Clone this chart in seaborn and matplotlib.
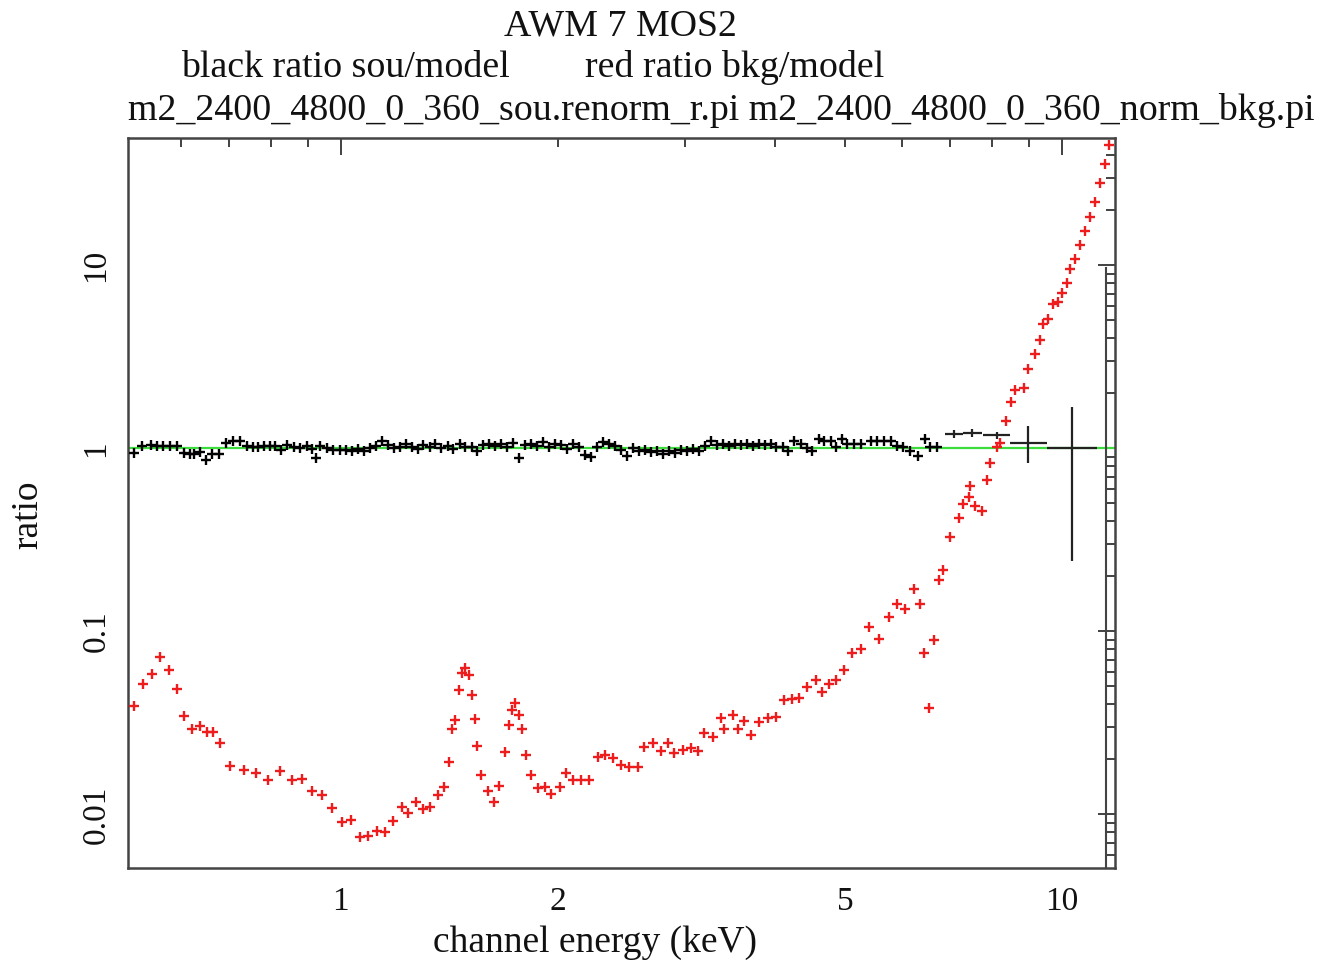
import numpy as np
import pandas as pd
import matplotlib
matplotlib.use("Agg")
import matplotlib.pyplot as plt
import seaborn as sns
from matplotlib.ticker import FixedLocator, FuncFormatter, NullFormatter

# ---------------- data ----------------
# background / model ratio (red)
bkg_energy = [0.517, 0.532, 0.548, 0.562, 0.578, 0.593, 0.606, 0.622, 0.639, 0.653,
              0.665, 0.681, 0.703, 0.734, 0.764, 0.793, 0.824, 0.855, 0.883, 0.912,
              0.941, 0.972, 1.003, 1.033, 1.063, 1.092, 1.121, 1.152, 1.183, 1.214,
              1.241, 1.271, 1.301, 1.329, 1.362, 1.391, 1.413, 1.427, 1.442, 1.458,
              1.474, 1.489, 1.505, 1.518, 1.534, 1.547, 1.567, 1.601, 1.629, 1.658,
              1.688, 1.712, 1.728, 1.742, 1.765, 1.785, 1.808, 1.837, 1.877, 1.917,
              1.958, 2.011, 2.054, 2.098, 2.154, 2.212, 2.272, 2.326, 2.384, 2.447,
              2.513, 2.581, 2.636, 2.707, 2.780, 2.840, 2.901, 2.979, 3.058, 3.124,
              3.190, 3.277, 3.365, 3.401, 3.493, 3.549, 3.625, 3.702, 3.802, 3.905,
              4.009, 4.117, 4.228, 4.318, 4.435, 4.554, 4.652, 4.751, 4.853, 4.983,
              5.118, 5.255, 5.396, 5.570, 5.750, 5.906, 6.065, 6.228, 6.363, 6.430,
              6.533, 6.637, 6.744, 6.839, 7.000, 7.188, 7.290, 7.421, 7.461, 7.580,
              7.743, 7.868, 7.950, 8.122, 8.207, 8.366, 8.502, 8.610, 8.841, 8.983,
              9.177, 9.323, 9.421, 9.574, 9.727, 9.883, 9.991, 10.15, 10.26, 10.42,
              10.59, 10.76, 10.93, 11.11, 11.29, 11.47, 11.63]
bkg_ratio = [0.0390, 0.0514, 0.0583, 0.0724, 0.0613, 0.0481, 0.0344, 0.0294, 0.0303, 0.0282,
             0.0282, 0.0244, 0.0183, 0.0174, 0.0169, 0.0154, 0.0173, 0.0154, 0.0155, 0.01345,
             0.01274, 0.01086, 0.00904, 0.0093, 0.00755, 0.00762, 0.00814, 0.00804, 0.00923, 0.01092,
             0.01013, 0.01171, 0.01065, 0.0110, 0.01274, 0.01404, 0.01936, 0.0291, 0.0327, 0.0477,
             0.0588, 0.0626, 0.0575, 0.0448, 0.0330, 0.0236, 0.0164, 0.01345, 0.01171, 0.01427,
             0.02196, 0.0307, 0.0371, 0.0406, 0.0348, 0.0294, 0.02106, 0.0164, 0.01386, 0.01415,
             0.0129, 0.01415, 0.01674, 0.0154, 0.0154, 0.0154, 0.02046, 0.02106, 0.0202, 0.01858,
             0.01818, 0.01818, 0.0232, 0.0244, 0.0222, 0.0246, 0.0217, 0.0224, 0.0229, 0.0222,
             0.0277, 0.0263, 0.0334, 0.0294, 0.0348, 0.0294, 0.0324, 0.0271, 0.0320, 0.0334,
             0.0341, 0.0420, 0.0429, 0.0433, 0.0497, 0.0540, 0.0466, 0.0518, 0.0540, 0.0613,
             0.0756, 0.0804, 0.1055, 0.0912, 0.1197, 0.1416, 0.1330, 0.1710, 0.1416, 0.0756,
             0.0379, 0.0893, 0.1898, 0.2152, 0.3257, 0.4135, 0.4930, 0.540, 0.618, 0.481,
             0.4516, 0.6665, 0.825, 1.013, 1.074, 1.407, 1.798, 2.077, 2.144, 2.721,
             3.253, 3.894, 4.797, 5.100, 6.096, 6.283, 7.070, 8.017, 9.559, 10.75,
             12.92, 15.41, 18.44, 22.07, 28.15, 35.74, 45.4]

# source / model ratio (black), narrow channels
sou_energy = [0.517, 0.531, 0.545, 0.556, 0.567, 0.580, 0.592, 0.606, 0.618, 0.626,
              0.638, 0.651, 0.663, 0.677, 0.694, 0.709, 0.726, 0.741, 0.756, 0.769,
              0.782, 0.797, 0.811, 0.826, 0.842, 0.860, 0.878, 0.897, 0.912, 0.924,
              0.936, 0.956, 0.977, 0.998,
              1.016, 1.036, 1.056, 1.076, 1.097, 1.118, 1.139, 1.161, 1.184, 1.207,
              1.230, 1.254, 1.278, 1.302, 1.328, 1.353, 1.379, 1.406, 1.433, 1.461,
              1.489, 1.518, 1.547, 1.577, 1.607, 1.638, 1.670, 1.702, 1.735, 1.769,
              1.803, 1.837, 1.873, 1.909, 1.946, 1.983,
              2.021, 2.061, 2.101, 2.141, 2.183, 2.225, 2.268, 2.311, 2.356, 2.401,
              2.447, 2.495, 2.543, 2.592, 2.642, 2.693, 2.745, 2.797, 2.851, 2.906,
              2.962, 3.019, 3.077, 3.137, 3.197, 3.259, 3.321, 3.385, 3.451, 3.517,
              3.585, 3.654, 3.725, 3.797, 3.870, 3.945,
              4.009, 4.097, 4.163, 4.247, 4.343, 4.435, 4.506, 4.597, 4.671, 4.776,
              4.853, 4.958, 5.038, 5.140, 5.256, 5.426, 5.543, 5.655, 5.783, 5.907,
              6.027, 6.163, 6.322, 6.465, 6.569, 6.711]
sou_ratio = [0.936, 1.034, 1.047, 1.034, 1.034, 1.022, 1.034, 0.944, 0.932, 0.924,
             0.951, 0.865, 0.932, 0.932, 1.065, 1.101, 1.092, 1.022, 1.013, 1.013,
             1.022, 1.022, 1.025, 0.980, 1.047, 1.013, 1.005, 1.022, 0.993, 0.886,
             1.034, 1.005, 0.972, 0.972,
             0.98, 0.97, 0.99, 0.96, 1.00, 1.03, 1.09, 1.04, 1.00, 1.02,
             1.05, 1.01, 0.99, 1.04, 1.02, 1.06, 1.00, 1.03, 0.99, 1.05,
             1.01, 1.02, 0.97, 1.04, 1.06, 1.03, 1.05, 1.01, 1.07, 0.88,
             1.04, 1.05, 1.03, 1.08, 1.02, 1.06,
             1.04, 0.99, 1.05, 1.02, 0.92, 0.90, 1.01, 1.08, 1.05, 1.03,
             0.98, 0.91, 1.00, 0.97, 0.98, 0.95, 0.96, 0.93, 0.97, 0.94,
             0.98, 0.96, 0.99, 0.97, 1.03, 1.09, 1.04, 1.05, 1.03, 1.06,
             1.04, 1.05, 1.03, 1.06, 1.04, 1.05,
             1.01, 1.01, 0.97, 1.10, 1.06, 1.00, 0.97, 1.12, 1.10, 1.10,
             1.01, 1.12, 1.06, 1.06, 1.06, 1.10, 1.10, 1.10, 1.10, 1.03,
             1.01, 0.97, 0.91, 1.12, 1.01, 1.01]

# source / model ratio (black), wide high-energy bins
wide_energy = [7.074, 7.502, 8.122, 8.983, 10.31]
wide_e_lo = [6.889, 7.296, 7.776, 8.474, 9.524]
wide_e_hi = [7.296, 7.743, 8.474, 9.524, 11.17]
wide_ratio = [1.198, 1.212, 1.176, 1.074, 1.0]
wide_r_lo = [1.14, 1.15, 1.12, 0.825, 0.241]
wide_r_hi = [1.26, 1.27, 1.23, 1.330, 1.689]

model_level = 1.0

x_major = [1, 10]
x_minor = [0.6, 0.7, 0.8, 0.9, 2, 3, 4, 5, 6, 7, 8, 9]
x_minor_labelled = [2, 5]
y_major = [0.01, 0.1, 1, 10]

title_main = "AWM 7 MOS2"
title_black = "black ratio sou/model"
title_red = "red ratio bkg/model"
title_files = "m2_2400_4800_0_360_sou.renorm_r.pi m2_2400_4800_0_360_norm_bkg.pi"

# ---------------- style ----------------
sns.set_style("white")
plt.rcParams["font.family"] = ["Liberation Serif", "DejaVu Serif"]

W, H = 1321, 965
fig = plt.figure(figsize=(W / 100, H / 100), dpi=100)
L, R, T, B = 128, 1115, 138, 868
ax = fig.add_axes([L / W, 1 - B / H, (R - L) / W, (B - T) / H])

df_sou = pd.DataFrame({"energy": sou_energy, "ratio": sou_ratio})
df_bkg = pd.DataFrame({"energy": bkg_energy, "ratio": bkg_ratio})

ax.axhline(model_level, color="#3ddc3d", lw=1.6, zorder=2.5)

sns.scatterplot(data=df_sou, x="energy", y="ratio", color="black", marker="+",
                s=45, linewidth=1.7, ax=ax, zorder=3, legend=False)

we = np.array(wide_energy)
wr = np.array(wide_ratio)
ax.errorbar(we, wr,
            xerr=[we - np.array(wide_e_lo), np.array(wide_e_hi) - we],
            yerr=[wr - np.array(wide_r_lo), np.array(wide_r_hi) - wr],
            fmt="none", ecolor="#222222", elinewidth=1.6, capsize=0, zorder=3)

sns.scatterplot(data=df_bkg, x="energy", y="ratio", color="#ee1c1c", marker="+",
                s=50, linewidth=1.7, ax=ax, zorder=4, legend=False)

ax.set_xscale("log")
ax.set_yscale("log")
ax.set_xlim(0.507, 11.84)
ax.set_ylim(0.00509, 49.5)

ax.xaxis.set_major_locator(FixedLocator(x_major))
ax.xaxis.set_minor_locator(FixedLocator(x_minor))
ax.xaxis.set_major_formatter(FuncFormatter(lambda v, p: f"{v:g}"))
ax.xaxis.set_minor_formatter(FuncFormatter(
    lambda v, p: f"{v:g}" if any(abs(v - m) < 1e-6 for m in x_minor_labelled) else ""))

ymin_minor = [k * 10.0 ** e for e in range(-3, 2) for k in range(2, 10)]
ax.yaxis.set_major_locator(FixedLocator(y_major))
ax.yaxis.set_minor_locator(FixedLocator(ymin_minor))
ax.yaxis.set_major_formatter(FuncFormatter(lambda v, p: f"{v:g}"))
ax.yaxis.set_minor_formatter(NullFormatter())

ax.tick_params(which="both", direction="in", top=True, right=True,
               color="#333333", width=1.3, labelsize=24, labelcolor="#111111")
ax.tick_params(which="major", length=12)
ax.tick_params(which="minor", length=6.5)
ax.tick_params(axis="x", which="both", pad=13)
ax.tick_params(axis="y", which="both", pad=12, labelrotation=90)
for lab in ax.get_yticklabels():
    lab.set_va("center")

for sp in ax.spines.values():
    sp.set_color("#444444")
    sp.set_linewidth(1.8)

ax.set_xlabel("channel energy (keV)", fontsize=27, color="#111111")
ax.set_ylabel("ratio", fontsize=27, color="#111111")
ax.xaxis.set_label_coords((595 - L) / (R - L), -0.078)
ax.yaxis.set_label_coords((45 - L) / (R - L), (B - 515) / (B - T))

# secondary (overlapping) frame axis at the right edge
ax2 = fig.add_axes([1106 / W, 1 - B / H, (R - 1106) / W, (B - 268) / H])
ax2.set_facecolor("none")
ax2.set_yscale("log")
ax2.set_ylim(1, 1000)
ax2.set_xticks([])
for name, sp in ax2.spines.items():
    sp.set_visible(name == "left")
ax2.spines["left"].set_color("#444444")
ax2.spines["left"].set_linewidth(1.5)
ax2.yaxis.set_major_locator(FixedLocator([1, 10, 100, 1000]))
ax2.yaxis.set_minor_locator(FixedLocator([k * 10.0 ** e for e in range(0, 3) for k in range(2, 10)]))
ax2.yaxis.set_major_formatter(NullFormatter())
ax2.yaxis.set_minor_formatter(NullFormatter())
ax2.tick_params(axis="y", which="major", direction="out", length=8, width=1.3, color="#333333")
ax2.tick_params(axis="y", which="minor", direction="in", length=6.5, width=1.1, color="#333333")

# titles
fs = 27.3
fig.text(620 / W, 1 - 36 / H, title_main, ha="center", va="baseline", fontsize=fs, color="#111111")
fig.text(181 / W, 1 - 77 / H, title_black, ha="left", va="baseline", fontsize=fs, color="#111111")
fig.text(585 / W, 1 - 77 / H, title_red, ha="left", va="baseline", fontsize=fs, color="#111111")
fig.text(128 / W, 1 - 120 / H, title_files, ha="left", va="baseline", fontsize=fs, color="#111111")

fig.savefig("out.png", dpi=100)
